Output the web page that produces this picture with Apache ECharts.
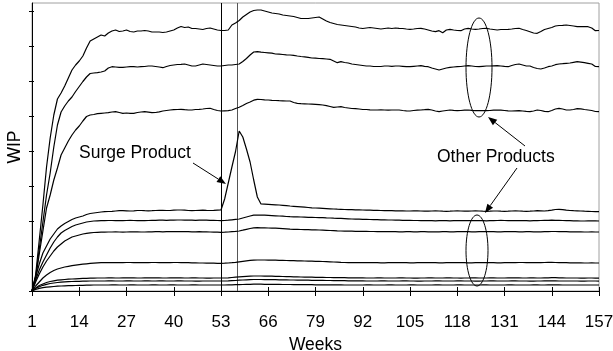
<!DOCTYPE html>
<html>
<head>
<meta charset="utf-8">
<script src="https://cdn.jsdelivr.net/npm/echarts@6/dist/echarts.min.js"></script>
<style>
html,body{margin:0;padding:0;background:#fff;}
#chart{width:613px;height:351px;}
</style>
</head>
<body>
<div id="chart"></div>
<script>
// ---- data (WIP height units, weeks 1..157) ----
const xTickLabels = [1, 14, 27, 40, 53, 66, 79, 92, 105, 118, 131, 144, 157];
const yTicks = [0, 35, 70, 105, 140, 175, 210, 245, 280];
const surgeStartWeek = 53;
const surgeEndWeek = 57.6;

const productA = [0,16,51,86,124,153,176,192,198,205,
213,221,226,230,235,243,250,252,254,256,
255,258,260,261,259.5,260,261,259.5,259,260,
260,260.5,260,259,259,259,258.5,259,260,261,
263,264.5,263.5,264,262.5,262.5,262,261.5,262.5,263,
262,261,260.5,260.5,261,266,268,270.5,274,276.5,
279,280.5,281,281,280,279,278,277.5,277,276,
275.5,275,274.5,273.5,272.5,272.5,272.5,273,273.5,274,
272,270,268.5,267.5,266.5,266,265.5,265,264.5,264,
263,262.5,263,263.5,263,262.5,262,262.5,263,262.5,
263,262.7,262.5,262,261.7,262,262.5,262.7,262,261,
260,259.3,260.3,258.3,261,261.7,261,260.5,260.3,262,
262.7,262,261.7,262,262.5,262.7,262,261.5,261,261.5,
261.5,261.7,262,262.5,262.7,261.5,260.5,259.3,258,257.7,
259.5,261.5,262.5,263.5,265,265.5,265.7,266,265.5,265,
264.3,264.3,264.3,264.3,263,260.3,260.5];

const productB = [0,14,42,69,96,118,144,166,179,185,
190,194,199.5,204.5,209.5,214,217.5,218,218.3,219,
220,223,224.3,224,223.7,223.7,224,224.3,224.3,224,
224.3,224.5,225,225,224.5,224,223.3,224.5,225.5,226,
226.5,226.7,227,226,225,225,226,227,226.5,226,
225.5,225,225,225.5,226,226,226.5,227,229.5,232.5,
236,239,239.3,238.8,238.5,238.2,237.8,237,236.8,236.5,
236.2,236,235.6,235,234.5,234.2,233.6,233,232.8,232.5,
232.3,232,231.7,230,228.3,229.3,228.5,228,227,226.5,
226,225.5,225,225,224.5,224.5,224.5,225,225,224.7,
225,225,224.7,224.3,224.3,224.7,225,225.3,224.7,224.3,
223,222,221,222,223,223.7,224,224.3,224.5,225,
225.3,225,224.5,224.3,224.7,225,225,225.2,225.3,225,
224.6,224.3,225.5,226.5,227,226,225,225,223.5,222.5,
222,223,224.3,225,226.3,227,227.3,227.7,228,228.7,
229.3,228.8,228.3,227.7,227,224.5,224.3];

const productC = [0,13,37,60,83,96,111,123,136,143,
150,156,161,165,170,174.5,176,176.5,177.3,177.7,
178,178.3,179,179.3,178.5,177.7,178,177.7,177.7,178.5,
179,179.3,178.8,178.3,178.5,179.2,180,180.5,181,181.3,
181.5,181.7,181.3,181,181,181.5,181.7,182,182.5,182.7,
181.5,180.5,180,180.2,180.3,181,182.5,183.7,185.5,187.5,
189,190.8,191.7,191.5,191.2,191,190.7,190.5,190.3,190.2,
190,190,188.5,187.7,187.3,187.2,187,186.8,186.6,186.3,
186,185.3,184.5,183.7,184,184.3,183.5,183,182.5,182.3,
182,181.5,181.5,181.2,181,181,181.2,181,180.8,181,
181,181,180.5,180.2,180,180.5,180.8,181,181.3,181.7,
181,180,179.3,180,180.5,181,180.6,180.3,180.5,180.8,
181,180.6,180.3,180.3,180.3,180.3,180.5,180.8,181,180.8,
180.5,180.2,180,180.2,180.3,180,179.6,179.3,180,181,
180.5,179.6,179.3,180.5,182,182.7,182,181,181,181.5,
182.3,182.2,181.5,181,180.5,179.5,179.3];

const surgeProduct = [0,14,27,38,45,52,57,62,65,67.5,
69.5,71.5,73,74,75,76.5,77.5,78,78.5,79,
79.3,79.5,79.7,80,80.3,80.3,80.2,80,80.2,80.5,
80.5,80.3,80.2,80.3,80.5,80.7,80.6,80.5,80.5,80.8,
81,81,80.8,80.5,80.3,80.5,80.7,80.8,80.6,80.5,
80.6,80.8,81,92,108,124,139.5,160,154,142,
129,111,94,87,86.8,86.6,86.4,86.2,86,85.7,
85.4,85,84.7,84.4,84.1,83.8,83.5,83.2,83,82.8,
82.6,82.4,82.2,82,81.8,81.7,81.5,81.4,81.3,81.2,
81.1,81,80.9,80.8,80.7,80.6,80.5,80.4,80.3,80.3,
80.2,80.2,80.1,80,80,80.1,80.2,80,79.8,79.8,
80,80.2,80,79.8,79.7,79.8,80,80.2,80,79.8,
79.8,80,80.1,80,79.8,79.7,79.8,80,80,79.8,
79.7,79.8,80,80.2,80,79.8,79.7,79.8,80,80.3,
80.2,80,80.3,80.8,81.5,81.7,81.3,80.8,80.5,80.3,
80.2,80,79.8,79.7,79.5,79.4,79.3];

const productE = [0,11,21,29,36,43,49,54,58,60.5,
62.5,64.5,66,67,68,69,69.5,70,70.2,70.3,
70.4,70.5,70.5,70.4,70.3,70.4,70.5,70.6,70.5,70.4,
70.3,70.4,70.5,70.6,70.7,70.8,70.8,70.7,70.8,70.9,
71,71,70.9,70.8,70.8,70.7,70.8,70.9,70.8,70.7,
70.6,70.5,70.4,70.5,70.8,71.2,71.6,72,73,74,
75,75.8,76,75.9,75.8,75.6,75.4,75.2,75,74.8,
74.5,74.3,74.2,74.1,74,73.9,73.7,73.6,73.5,73.4,
73.3,73.1,73,72.8,72.7,72.6,72.4,72.2,72,71.9,
71.8,71.7,71.6,71.5,71.4,71.3,71.2,71.1,71,71,
70.9,70.8,70.7,70.6,70.6,70.5,70.5,70.4,70.4,70.3,
70.3,70.2,70.3,70.4,70.3,70.2,70.3,70.4,70.5,70.4,
70.3,70.4,70.5,70.4,70.3,70.2,70.3,70.4,70.5,70.6,
70.5,70.4,70.3,70.4,70.5,70.4,70.3,70.2,70.3,70.4,
70.5,70.6,70.7,70.8,70.7,70.6,70.5,70.4,70.3,70.2,
70.1,70,70,70.1,70.2,70.1,70];

const productF = [0,9,17,24,30,35,40,44,47,50,
52,54,55,56,57,57.7,58.2,58.5,58.7,58.8,
58.9,59,59,59.1,59,58.9,59,59.1,59.2,59.1,
59,59,59.1,59.2,59.3,59.3,59.2,59.3,59.4,59.4,
59.5,59.4,59.3,59.3,59.2,59.2,59.3,59.2,59.1,59,
58.9,58.8,58.7,58.8,59,59.3,59.6,60,60.8,61.7,
62.5,63.1,63.3,63.2,63.1,63,62.9,62.8,62.6,62.4,
62.2,61.9,61.7,61.6,61.5,61.4,61.3,61.2,61.1,61,
60.9,60.7,60.5,60.3,60.1,60,59.9,59.8,59.8,59.7,
59.7,59.6,59.6,59.5,59.5,59.4,59.4,59.3,59.3,59.3,
59.3,59.2,59.2,59.3,59.3,59.2,59.2,59.3,59.3,59.2,
59.2,59.1,59.2,59.3,59.3,59.2,59.2,59.3,59.4,59.3,
59.3,59.2,59.2,59.3,59.3,59.4,59.3,59.3,59.2,59.2,
59.3,59.3,59.4,59.3,59.2,59.2,59.3,59.3,59.2,59.1,
59.2,59.3,59.4,59.5,59.5,59.4,59.3,59.3,59.2,59.2,
59.1,59.1,59,59,59.1,59,59];

const productG = [0,5,9,13,16,18.5,20.5,22,23,24,
24.7,25.3,25.8,26.3,26.8,27.2,27.6,27.9,28.1,28.3,
28.3,28.4,28.4,28.3,28.3,28.4,28.5,28.5,28.4,28.3,
28.3,28.4,28.4,28.5,28.5,28.4,28.3,28.3,28.4,28.5,
28.5,28.4,28.3,28.3,28.2,28.1,28,28,27.9,27.8,
27.8,27.7,27.7,27.8,28,28.3,28.7,29.2,29.7,30.2,
30.6,30.9,31,31,31,30.9,30.9,30.8,30.7,30.6,
30.5,30.4,30.3,30.2,30.1,30,29.9,29.8,29.7,29.6,
29.5,29.4,29.2,29,28.8,28.6,28.5,28.4,28.4,28.3,
28.3,28.3,28.4,28.4,28.3,28.3,28.2,28.2,28.3,28.3,
28.4,28.4,28.3,28.3,28.2,28.2,28.3,28.3,28.4,28.4,
28.3,28.3,28.2,28.2,28.3,28.3,28.4,28.4,28.3,28.3,
28.2,28.2,28.3,28.3,28.4,28.4,28.3,28.3,28.2,28.2,
28.3,28.3,28.4,28.4,28.5,28.5,28.4,28.4,28.3,28.3,
28.4,28.5,28.6,28.6,28.5,28.4,28.3,28.3,28.2,28.2,
28.1,28.1,28,28,28.1,28,28];

const productH = [0,3,5.5,7,8.5,9.5,10.2,10.8,11.2,11.5,
11.8,12,12.2,12.4,12.6,12.7,12.8,12.9,13,13,
13,13.1,13.1,13,13,13.1,13.2,13.2,13.1,13,
13,13.1,13.1,13.2,13.2,13.1,13,13,13.1,13.2,
13.2,13.1,13,13,13.1,13.1,13,13,12.9,12.9,
13,13,13,13,13.2,13.5,13.8,14.1,14.4,14.7,
14.9,15,15,15,14.9,14.9,14.8,14.7,14.6,14.5,
14.4,14.3,14.2,14.1,14,13.9,13.8,13.8,13.7,13.6,
13.6,13.5,13.5,13.4,13.4,13.3,13.3,13.2,13.2,13.1,
13.1,13.1,13,13,13,13.1,13.1,13,13,13,
13,13.1,13.1,13,13,12.9,12.9,13,13,13.1,
13.1,13,13,13,13.1,13.1,13,13,12.9,13,
13,13.1,13.1,13,13,13,13.1,13.1,13,13,
13,13.1,13.2,13.2,13.1,13,13,13.1,13.1,13,
13,13.1,13.2,13.3,13.3,13.2,13.1,13,13,13,
13,12.9,12.9,13,13,12.9,12.9];

const productI = [0,2.5,4.3,5.7,6.7,7.5,8,8.5,8.9,9.2,
9.4,9.5,9.6,9.7,9.8,9.9,10,10,10,10,
10,10.1,10.1,10,10,10,10.1,10.1,10,10,
10,10.1,10.1,10,10,10.1,10.1,10,10,10,
10.1,10.1,10,10,10,9.9,9.9,10,10,10,
10,10,10,10,10.1,10.3,10.5,10.8,11,11.2,
11.4,11.5,11.5,11.5,11.4,11.4,11.3,11.3,11.2,11.1,
11.1,11,11,10.9,10.9,10.8,10.8,10.7,10.7,10.6,
10.6,10.5,10.5,10.4,10.4,10.3,10.3,10.2,10.2,10.1,
10.1,10.1,10,10,10,10,10.1,10.1,10,10,
10,10,10.1,10.1,10,10,9.9,9.9,10,10,
10,10.1,10.1,10,10,10,10,10.1,10.1,10,
10,10,9.9,9.9,10,10,10.1,10.1,10,10,
10,10,10.1,10.1,10,10,10,9.9,9.9,10,
10,10.1,10.2,10.2,10.1,10,10,10,10,10,
10,9.9,9.9,10,10,10,9.9];

const productJ = [0,1.5,2.6,3.3,3.8,4.2,4.5,4.8,5,5.2,
5.3,5.4,5.5,5.6,5.7,5.8,5.9,6,6,6,
6,6,6.1,6.1,6,6,6,6.1,6.1,6,
6,6,6,6.1,6.1,6,6,6,6.1,6.1,
6,6,6,6,6.1,6.1,6,6,6,6,
6,6,6,6,6.1,6.2,6.3,6.4,6.5,6.6,
6.7,6.8,6.8,6.8,6.7,6.7,6.7,6.6,6.6,6.5,
6.5,6.5,6.4,6.4,6.4,6.3,6.3,6.3,6.2,6.2,
6.2,6.2,6.1,6.1,6.1,6.1,6,6,6,6,
6,6,6.1,6.1,6,6,6,6,6.1,6.1,
6,6,6,6,6.1,6.1,6,6,6,6,
6,6.1,6.1,6,6,6,6,6.1,6.1,6,
6,6,6,6,6.1,6.1,6,6,6,6,
6,6.1,6.1,6,6,6,6,6,6.1,6.1,
6,6,6.1,6.2,6.2,6.1,6,6,6,6,
6,6,6,6,6,6,6];

const allSeries = [productA, productB, productC, surgeProduct, productE, productF, productG, productH, productI, productJ];

// ---- chart ----
const FONT = "'Liberation Sans', Arial, sans-serif";
const chart = echarts.init(document.getElementById('chart'), null, {renderer: 'canvas'});

function arrow(x1, y1, x2, y2) {
  const dx = x2 - x1, dy = y2 - y1, L = Math.hypot(dx, dy);
  const ux = dx / L, uy = dy / L, hl = 9, hw = 3.5;
  const bx = x2 - ux * hl, by = y2 - uy * hl;
  return [
    {type: 'line', shape: {x1: x1, y1: y1, x2: bx, y2: by}, style: {stroke: '#000', lineWidth: 1}, z: 100},
    {type: 'polygon', shape: {points: [[x2, y2], [bx - uy * hw, by + ux * hw], [bx + uy * hw, by - ux * hw]]}, style: {fill: '#000'}, z: 100}
  ];
}

const textStyle = {fontFamily: FONT, fontSize: 17.5, fill: '#000'};

const graphics = [
  {type: 'text', left: 79, top: 144, style: Object.assign({text: 'Surge Product'}, textStyle), z: 100},
  {type: 'text', left: 437, top: 148, style: Object.assign({text: 'Other Products'}, textStyle), z: 100},
  {type: 'ellipse', shape: {cx: 479, cy: 67.5, rx: 13, ry: 49.5}, style: {fill: 'none', stroke: '#000', lineWidth: 1}, z: 100},
  {type: 'ellipse', shape: {cx: 477, cy: 250.5, rx: 11, ry: 35.5}, style: {fill: 'none', stroke: '#000', lineWidth: 1}, z: 100}
].concat(arrow(193, 163, 226, 184), arrow(525, 146, 488, 117), arrow(517, 168, 485, 213));

const series = allSeries.map((vals, idx) => {
  const s = {
    type: 'line',
    data: vals.map((v, i) => [i + 1, v]),
    symbol: 'none',
    silent: true,
    animation: false,
    lineStyle: {color: '#000', width: 1.2},
    z: 10
  };
  if (idx === 0) {
    s.markLine = {
      silent: true,
      symbol: 'none',
      label: {show: false},
      animation: false,
      data: [
        {xAxis: surgeStartWeek, lineStyle: {color: '#000', width: 1, type: 'solid'}},
        {xAxis: surgeEndWeek, lineStyle: {color: '#555', width: 1, type: 'solid'}}
      ]
    };
  }
  return s;
});

chart.setOption({
  animation: false,
  backgroundColor: '#fff',
  grid: {left: 32, right: 14, top: 3, bottom: 60, containLabel: false, outerBoundsMode: 'none',
         show: true, borderColor: '#a0a0a0', borderWidth: 1, backgroundColor: 'transparent'},
  xAxis: [{
    type: 'value', min: 1, max: 157,
    name: 'Weeks', nameLocation: 'middle', nameGap: 34,
    nameTextStyle: {fontFamily: FONT, fontSize: 17.5, color: '#000'},
    axisLine: {show: true, lineStyle: {color: '#000', width: 1}},
    axisTick: {show: true, length: 5, lineStyle: {color: '#000'}, customValues: xTickLabels},
    axisLabel: {show: true, margin: 23, fontFamily: FONT, fontSize: 17, color: '#000', customValues: xTickLabels},
    splitLine: {show: false}
  }, {
    type: 'value', min: 1, max: 157, position: 'bottom',
    axisLine: {show: false},
    axisTick: {show: true, inside: true, length: 4, lineStyle: {color: '#000'}, customValues: xTickLabels},
    axisLabel: {show: false},
    splitLine: {show: false}
  }],
  yAxis: [{
    type: 'value', min: 0, max: 288,
    name: 'WIP', nameLocation: 'middle', nameGap: 8,
    nameTextStyle: {fontFamily: FONT, fontSize: 17.5, color: '#000'},
    axisLine: {show: true, lineStyle: {color: '#000', width: 1}},
    axisTick: {show: true, length: 3, lineStyle: {color: '#000'}, customValues: yTicks},
    axisLabel: {show: false},
    splitLine: {show: false}
  }, {
    type: 'value', min: 0, max: 288, position: 'left',
    axisLine: {show: false},
    axisTick: {show: true, inside: true, length: 2, lineStyle: {color: '#000'}, customValues: yTicks},
    axisLabel: {show: false},
    splitLine: {show: false}
  }],
  series: series,
  graphic: graphics
});
</script>
</body>
</html>
